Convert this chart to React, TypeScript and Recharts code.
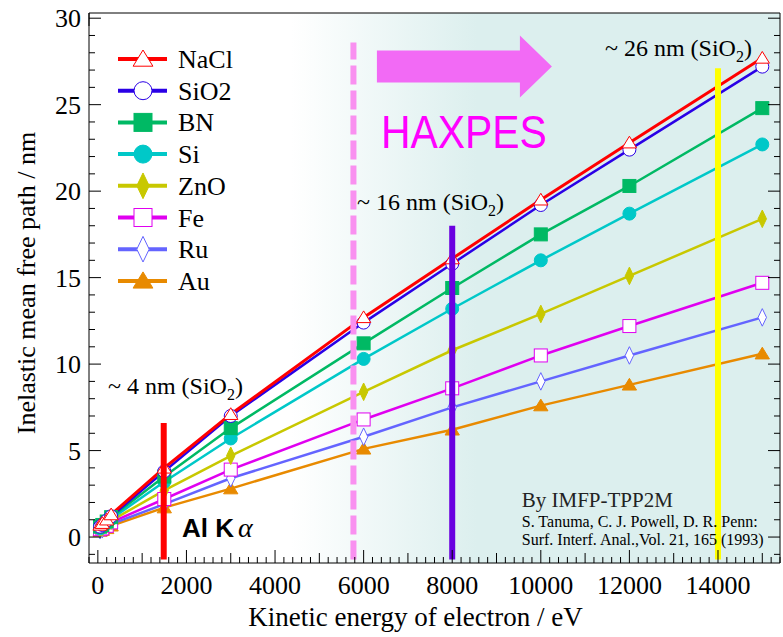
import React from 'react';
import {
  LineChart,
  Line,
  XAxis,
  YAxis,
  ReferenceArea,
  ReferenceLine,
  ReferenceDot,
  Legend,
} from 'recharts';

// kinetic energy (eV) and IMFP (nm)
const ENERGY = [50, 100, 200, 300, 1500, 3000, 6000, 8000, 10000, 12000, 15000];
const NACL = [0.7, 0.8, 1.0, 1.3, 4.0, 7.1, 12.7, 16.1, 19.5, 22.8, 27.7];
const SIO2 = [0.6, 0.7, 0.95, 1.2, 3.8, 7.0, 12.4, 15.8, 19.2, 22.4, 27.2];
const BN = [0.6, 0.7, 0.9, 1.15, 3.5, 6.3, 11.2, 14.4, 17.5, 20.3, 24.8];
const SI = [0.5, 0.6, 0.8, 1.05, 3.2, 5.7, 10.3, 13.2, 16.0, 18.7, 22.7];
const ZNO = [0.5, 0.55, 0.75, 0.95, 2.7, 4.7, 8.4, 10.8, 12.9, 15.1, 18.4];
const FE = [0.45, 0.5, 0.65, 0.85, 2.2, 3.9, 6.8, 8.6, 10.5, 12.2, 14.7];
const RU = [0.4, 0.45, 0.6, 0.75, 1.9, 3.4, 5.8, 7.5, 9.0, 10.5, 12.7];
const AU = [0.35, 0.4, 0.5, 0.65, 1.7, 2.8, 5.1, 6.2, 7.6, 8.8, 10.6];

const X_TICKS = Array.from({ length: 79 }, (_, i) => -200 + i * 200);
const Y_TICKS = Array.from({ length: 32 }, (_, i) => -1 + i);

const FONT = '"Liberation Serif", "Times New Roman", serif';
const SANS = '"Liberation Sans", Arial, sans-serif';

type Shape = 'triangle' | 'circle' | 'square' | 'diamond';

const SERIES: { key: string; values: number[]; color: string; shape: Shape; hollow: boolean; width: number }[] = [
  { key: 'NaCl', values: NACL, color: '#ff0000', shape: 'triangle', hollow: true, width: 3 },
  { key: 'SiO2', values: SIO2, color: '#2a00e6', shape: 'circle', hollow: true, width: 2.5 },
  { key: 'BN', values: BN, color: '#00b964', shape: 'square', hollow: false, width: 2.5 },
  { key: 'Si', values: SI, color: '#00c8c8', shape: 'circle', hollow: false, width: 2.5 },
  { key: 'ZnO', values: ZNO, color: '#c8c800', shape: 'diamond', hollow: false, width: 2.5 },
  { key: 'Fe', values: FE, color: '#e000f0', shape: 'square', hollow: true, width: 2.5 },
  { key: 'Ru', values: RU, color: '#6464ff', shape: 'diamond', hollow: true, width: 2.5 },
  { key: 'Au', values: AU, color: '#e88a00', shape: 'triangle', hollow: false, width: 2.5 },
];

const ROWS = ENERGY.map((e, i) => {
  const row: Record<string, number> = { e };
  SERIES.forEach((s) => {
    row[s.key] = s.values[i];
  });
  return row;
});

const Marker = ({ shape, cx, cy, size, color, hollow }: any) => {
  const fill = hollow ? '#ffffff' : color;
  const s = size / 2;
  if (shape === 'triangle')
    return (
      <polygon
        points={`${cx},${cy - s * 1.0} ${cx - s * 1.1},${cy + s * 0.8} ${cx + s * 1.1},${cy + s * 0.8}`}
        fill={fill}
        stroke={color}
        strokeWidth={1}
      />
    );
  if (shape === 'circle') return <circle cx={cx} cy={cy} r={s} fill={fill} stroke={color} strokeWidth={1} />;
  if (shape === 'square')
    return <rect x={cx - s} y={cy - s} width={size} height={size} fill={fill} stroke={color} strokeWidth={1} />;
  return (
    <polygon
      points={`${cx},${cy - s * 1.35} ${cx + s * 0.65},${cy} ${cx},${cy + s * 1.35} ${cx - s * 0.65},${cy}`}
      fill={fill}
      stroke={color}
      strokeWidth={1}
    />
  );
};

const XTickBottom = ({ x, y, payload }: any) => {
  const v = payload.value;
  const len = v % 2000 === 0 ? 13 : v % 1000 === 0 ? 10 : 6;
  return (
    <g>
      <line x1={x} x2={x} y1={y} y2={y - len} stroke="#000" />
      {v % 2000 === 0 && v >= 0 && v <= 14000 && (
        <text x={x} y={y + 31} textAnchor="middle" fontSize={26} fontFamily={FONT} fill="#000">
          {v}
        </text>
      )}
    </g>
  );
};

const XTickTop = ({ x, y, payload }: any) => {
  const v = payload.value;
  const len = v % 2000 === 0 ? 13 : v % 1000 === 0 ? 10 : 6;
  return <line x1={x} x2={x} y1={y} y2={y + len} stroke="#000" />;
};

const YTickLeft = ({ x, y, payload }: any) => {
  const v = payload.value;
  const major = v % 5 === 0;
  return (
    <g>
      <line x1={x} x2={x + (major ? 12 : 6)} y1={y} y2={y} stroke="#000" />
      {major && (
        <text x={x - 8} y={y + 9} textAnchor="end" fontSize={26} fontFamily={FONT} fill="#000">
          {v}
        </text>
      )}
    </g>
  );
};

const YTickRight = ({ x, y, payload }: any) => {
  const major = payload.value % 5 === 0;
  return <line x1={x} x2={x - (major ? 12 : 6)} y1={y} y2={y} stroke="#000" />;
};

const renderLegend = () => (
  <svg width={130} height={270}>
    {SERIES.map((s, i) => {
      const cy = 17 + i * 31.7;
      return (
        <g key={s.key}>
          <line x1={8} x2={57} y1={cy} y2={cy} stroke={s.color} strokeWidth={4} />
          <Marker shape={s.shape} cx={33} cy={cy} size={s.shape === 'diamond' ? 19 : 18} color={s.color} hollow={s.hollow} />
          <text x={68} y={cy + 9} fontSize={26} fontFamily={FONT} fill="#000">
            {s.key}
          </text>
        </g>
      );
    })}
  </svg>
);

const sio2 = (prefix: string) => (
  <>
    {prefix} (SiO<tspan dy={6} fontSize={16}>2</tspan>
    <tspan dy={-6}>)</tspan>
  </>
);

const note = (key: string, x: number, y: number, content: React.ReactNode) => (
  <ReferenceDot
    key={key}
    x={x}
    y={y}
    r={0}
    ifOverflow="visible"
    zIndex={700}
    shape={(p: any) => <g transform={`translate(${p.cx},${p.cy})`}>{content}</g>}
  />
);

export default function App() {
  return (
    <div style={{ position: 'absolute', left: 0, top: 0, width: 783, height: 637, background: '#fff' }}>
      <LineChart width={783} height={637} data={ROWS} margin={{ top: 12, right: 2, bottom: 0, left: 0 }}>
        <defs>
          <linearGradient id="haxpesBg" x1="0" y1="0" x2="1" y2="0">
            <stop offset="0" stopColor="#ffffff" />
            <stop offset="0.38" stopColor="#dcefee" />
            <stop offset="1" stopColor="#dcefee" />
          </linearGradient>
        </defs>
        <XAxis
          dataKey="e"
          type="number"
          domain={[-200, 15400]}
          allowDataOverflow
          ticks={X_TICKS}
          interval={0}
          tick={XTickBottom}
          tickSize={0}
          tickMargin={0}
          height={74}
          stroke="#000"
          label={(p: any) => (
            <text
              x={p.viewBox.x + p.viewBox.width / 2 - 19}
              y={p.viewBox.y + 63}
              textAnchor="middle"
              fontSize={27}
              fontFamily={FONT}
              fill="#000"
            >
              Kinetic energy of electron / eV
            </text>
          )}
        />
        <XAxis
          xAxisId="top"
          orientation="top"
          type="number"
          domain={[-200, 15400]}
          allowDataOverflow
          ticks={X_TICKS}
          interval={0}
          tick={XTickTop}
          tickSize={0}
          tickMargin={0}
          height={1}
          stroke="#000"
        />
        <YAxis
          type="number"
          domain={[-1.5, 30.3]}
          allowDataOverflow
          ticks={Y_TICKS}
          interval={0}
          tick={YTickLeft}
          tickSize={0}
          tickMargin={0}
          width={89}
          stroke="#000"
          label={(p: any) => {
            const cx = 35;
            const cy = p.viewBox.y + p.viewBox.height / 2 - 5;
            return (
              <text
                x={cx}
                y={cy}
                transform={`rotate(-90, ${cx}, ${cy})`}
                textAnchor="middle"
                fontSize={26}
                fontFamily={FONT}
                fill="#000"
              >
                Inelastic mean free path / nm
              </text>
            );
          }}
        />
        <YAxis
          yAxisId="right"
          orientation="right"
          type="number"
          domain={[-1.5, 30.3]}
          allowDataOverflow
          ticks={Y_TICKS}
          interval={0}
          tick={YTickRight}
          tickSize={0}
          tickMargin={0}
          width={1}
          stroke="#000"
        />

        <ReferenceArea x1={4360} x2={15400} y1={-1.5} y2={30.3} fill="url(#haxpesBg)" fillOpacity={1} stroke="none" />

        {[...SERIES].reverse().map((s) => (
          <Line
            key={s.key}
            type="linear"
            dataKey={s.key}
            stroke={s.color}
            strokeWidth={s.width}
            isAnimationActive={false}
            dot={(p: any) => (
              <Marker
                key={`${s.key}-${p.index}`}
                shape={s.shape}
                cx={p.cx}
                cy={p.cy}
                size={13}
                color={s.color}
                hollow={s.hollow}
              />
            )}
            activeDot={false}
          />
        ))}

        <ReferenceLine segment={[{ x: 1487, y: -1.3 }, { x: 1487, y: 6.6 }]} stroke="#ff0000" strokeWidth={6} zIndex={650} />
        <ReferenceLine
          segment={[{ x: 5770, y: -1.3 }, { x: 5770, y: 28.6 }]}
          stroke="#f990f0"
          strokeWidth={6}
          strokeDasharray="19 6"
          zIndex={650}
        />
        <ReferenceLine segment={[{ x: 8000, y: -1.3 }, { x: 8000, y: 18.0 }]} stroke="#6a00e0" strokeWidth={6} zIndex={650} />
        <ReferenceLine segment={[{ x: 14000, y: -1.3 }, { x: 14000, y: 27.1 }]} stroke="#ffff00" strokeWidth={6} zIndex={650} />

        {note(
          'arrow',
          6300,
          27.2,
          <polygon points="0,-16 143,-16 143,-31 175,0 143,31 143,16 0,16" fill="#f26af5" />
        )}
        {note(
          'haxpes',
          6390,
          22.5,
          <text fontSize={47} fontFamily={SANS} fill="#ff00ff" textLength={166} lengthAdjust="spacingAndGlyphs">
            HAXPES
          </text>
        )}
        {note(
          'n26',
          11447,
          27.8,
          <text fontSize={24} fontFamily={FONT} fill="#000">
            {sio2('~ 26 nm')}
          </text>
        )}
        {note(
          'n16',
          5850,
          18.9,
          <text fontSize={24} fontFamily={FONT} fill="#000">
            {sio2('~ 16 nm')}
          </text>
        )}
        {note(
          'n4',
          228,
          8.3,
          <text fontSize={24} fontFamily={FONT} fill="#000">
            {sio2('~ 4 nm')}
          </text>
        )}
        {note(
          'alka',
          1900,
          0,
          <text fontSize={26} fontFamily={SANS} fontWeight="bold" fill="#000">
            Al K
            <tspan fontFamily={FONT} fontStyle="italic" fontWeight="normal" fontSize={28} dx={4}>
              α
            </tspan>
          </text>
        )}
        {note(
          'by',
          9570,
          1.73,
          <text fontSize={21} fontFamily={FONT} fill="#222">
            By IMFP-TPP2M
          </text>
        )}
        {note(
          'ref1',
          9570,
          0.58,
          <text fontSize={16} fontFamily={FONT} fill="#000">
            S. Tanuma, C. J. Powell, D. R. Penn:
          </text>
        )}
        {note(
          'ref2',
          9570,
          -0.46,
          <text fontSize={16} fontFamily={FONT} fill="#000">
            Surf. Interf. Anal.,Vol. 21, 165 (1993)
          </text>
        )}

        <Legend
          layout="vertical"
          align="center"
          verticalAlign="middle"
          wrapperStyle={{ left: 110, top: 42, width: 130 }}
          content={renderLegend}
        />
      </LineChart>
    </div>
  );
}
